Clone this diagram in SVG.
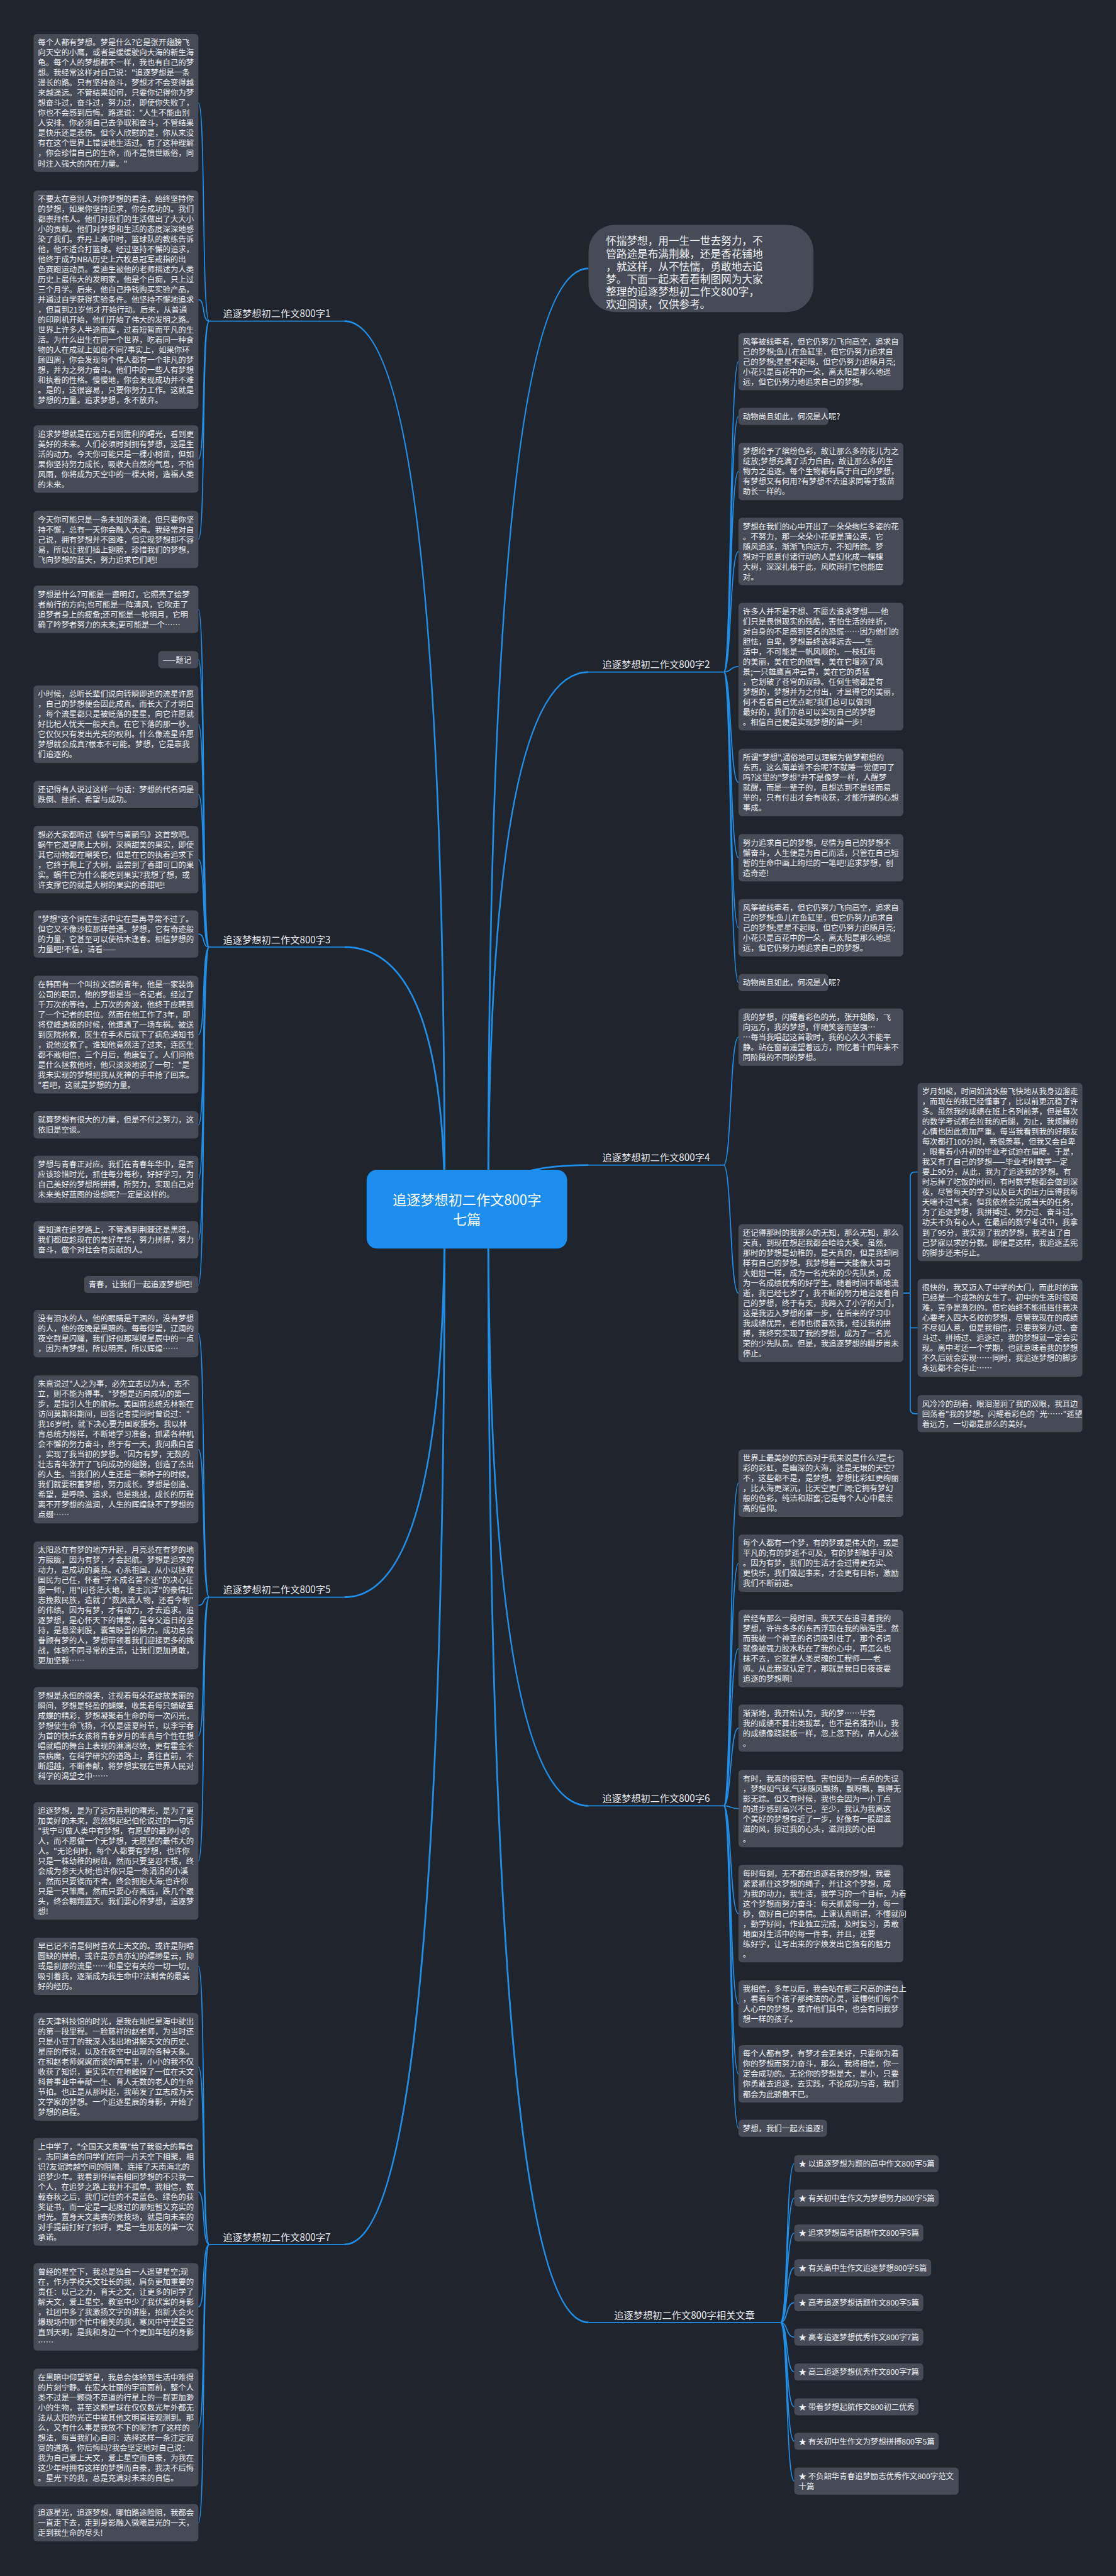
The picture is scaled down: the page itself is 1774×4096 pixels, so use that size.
<svg xmlns="http://www.w3.org/2000/svg" width="1774" height="4096" viewBox="0 0 1774 4096">
<style>
.bx{fill:#464b57}
.t{font-family:"Noto Sans CJK SC","Noto Sans",sans-serif;font-size:17.9px;fill:#eef0f3}
.lb{font-family:"Noto Sans CJK SC","Noto Sans",sans-serif;font-size:22px;fill:#e8eaee;text-anchor:middle}
.ln{fill:none;stroke:#1f8fea;stroke-width:2.5}
.mn{fill:none;stroke:#1f8fea;stroke-width:4}
</style>
<rect width="1774" height="4096" fill="#20242d"/>
<g transform="scale(0.69297)">
<g id="connectors">
<path class="mn" d="M1020,2775 Q1020,737 790,737"/>
<path class="mn" d="M1020,2775 Q1020,2173 790,2173"/>
<path class="mn" d="M1020,2775 Q1020,3665 790,3665"/>
<path class="mn" d="M1020,2775 Q1020,5150 790,5150"/>
<path class="mn" d="M1120,2775 Q1120,616 1350,616"/>
<path class="mn" d="M1120,2775 Q1120,1542 1350,1542"/>
<path class="mn" d="M1120,2775 Q1120,2673.5 1350,2673.5"/>
<path class="mn" d="M1120,2775 Q1120,4143.5 1350,4143.5"/>
<path class="mn" d="M1120,2775 Q1120,5329 1350,5329"/>
<path class="ln" d="M480,737 C462,737 472,236.2 455,236.2 M480,737 C462,737 472,687.6 455,687.6 M480,737 C462,737 472,1053.3 455,1053.3 M480,737 C462,737 472,1237.8 455,1237.8"/>
<path class="ln" d="M480,2173 C462,2173 472,1398.2 455,1398.2 M480,2173 C462,2173 472,1513.6 455,1513.6 M480,2173 C462,2173 472,1661.9 455,1661.9 M480,2173 C462,2173 472,1823.1 455,1823.1 M480,2173 C462,2173 472,1972.3 455,1972.3 M480,2173 C462,2173 472,2143.2 455,2143.2 M480,2173 C462,2173 472,2374.1 455,2374.1 M480,2173 C462,2173 472,2581.1 455,2581.1 M480,2173 C462,2173 472,2706.2 455,2706.2 M480,2173 C462,2173 472,2844.7 455,2844.7 M480,2173 C462,2173 472,2947.6 455,2947.6"/>
<path class="ln" d="M480,3665 C462,3665 472,3060.2 455,3060.2 M480,3665 C462,3665 472,3325.7 455,3325.7 M480,3665 C462,3665 472,3683.6 455,3683.6 M480,3665 C462,3665 472,3983 455,3983 M480,3665 C462,3665 472,4270 455,4270"/>
<path class="ln" d="M480,5150 C462,5150 472,4511.8 455,4511.8 M480,5150 C462,5150 472,4742.5 455,4742.5 M480,5150 C462,5150 472,5029.5 455,5029.5 M480,5150 C462,5150 472,5293.4 455,5293.4 M480,5150 C462,5150 472,5570 455,5570 M480,5150 C462,5150 472,5788.7 455,5788.7"/>
<path class="ln" d="M1660,1542.2 C1678,1542.2 1674,829.8 1694,829.8 M1660,1542.2 C1678,1542.2 1674,955.6 1694,955.6 M1660,1542.2 C1678,1542.2 1674,1081.8 1694,1081.8 M1660,1542.2 C1678,1542.2 1674,1265.3 1694,1265.3 M1660,1542.2 C1678,1542.2 1674,1529.6 1694,1529.6 M1660,1542.2 C1678,1542.2 1674,1795.3 1694,1795.3 M1660,1542.2 C1678,1542.2 1674,1968.2 1694,1968.2 M1660,1542.2 C1678,1542.2 1674,2128.8 1694,2128.8 M1660,1542.2 C1678,1542.2 1674,2254.6 1694,2254.6"/>
<path class="ln" d="M1660,2673.5 C1678,2673.5 1674,2379.8 1694,2379.8 M1660,2673.5 C1678,2673.5 1674,2967.2 1694,2967.2"/>
<path class="ln" d="M2072,2967.2 H2088 M2088,2967.2 V2701 Q2088,2689.4 2099,2689.4 H2105 M2088,2967.2 V3047 H2105 M2088,2967.2 V3232 Q2088,3243.7 2099,3243.7 H2105"/>
<path class="ln" d="M1660,4143.5 C1678,4143.5 1674,3403.3 1694,3403.3 M1660,4143.5 C1678,4143.5 1674,3586.8 1694,3586.8 M1660,4143.5 C1678,4143.5 1674,3782.9 1694,3782.9 M1660,4143.5 C1678,4143.5 1674,3965.2 1694,3965.2 M1660,4143.5 C1678,4143.5 1674,4149.9 1694,4149.9 M1660,4143.5 C1678,4143.5 1674,4391 1694,4391 M1660,4143.5 C1678,4143.5 1674,4598.2 1694,4598.2 M1660,4143.5 C1678,4143.5 1674,4758.8 1694,4758.8 M1660,4143.5 C1678,4143.5 1674,4883.6 1694,4883.6"/>
<path class="ln" d="M1790,5329 C1808,5329 1802,4964.6 1822,4964.6 M1790,5329 C1808,5329 1802,5043.6 1822,5043.6 M1790,5329 C1808,5329 1802,5123.6 1822,5123.6 M1790,5329 C1808,5329 1802,5203.6 1822,5203.6 M1790,5329 C1808,5329 1802,5283.6 1822,5283.6 M1790,5329 C1808,5329 1802,5362.6 1822,5362.6 M1790,5329 C1808,5329 1802,5442.6 1822,5442.6 M1790,5329 C1808,5329 1802,5522.6 1822,5522.6 M1790,5329 C1808,5329 1802,5601.6 1822,5601.6 M1790,5329 C1808,5329 1802,5693.1 1822,5693.1"/>
<path class="ln" d="M480,737 H790 M480,2173 H790 M480,3665 H790 M480,5150 H790 M1350,1542.2 H1660 M1350,2673.5 H1660 M1350,4143.5 H1660 M1350,5329 H1790"/>
</g>
<g id="center"><rect x="841" y="2684" width="460" height="181" rx="24" fill="#1b8ef0"/><text x="1071" y="2765" font-family="Noto Sans CJK SC,sans-serif" font-size="32" fill="#fff" text-anchor="middle">追逐梦想初二作文800字<tspan x="1071" dy="44">七篇</tspan></text></g>
<g id="intro"><rect x="1350" y="516" width="516" height="200" rx="60" class="bx"/><text class="t" style="font-size:24px" x="1390" y="562"><tspan x="1390">怀揣梦想，用一生一世去努力，不</tspan><tspan x="1390" dy="29">管路途是布满荆棘，还是香花铺地</tspan><tspan x="1390" dy="29">，就这样，从不怯懦，勇敢地去追</tspan><tspan x="1390" dy="29">梦。下面一起来看看制图网为大家</tspan><tspan x="1390" dy="29">整理的追逐梦想初二作文800字，</tspan><tspan x="1390" dy="29">欢迎阅读，仅供参考。</tspan></text></g>
<g id="b1"><text class="lb" x="635" y="728">追逐梦想初二作文800字1</text></g>
<g id="b3"><text class="lb" x="635" y="2164">追逐梦想初二作文800字3</text></g>
<g id="b5"><text class="lb" x="635" y="3656">追逐梦想初二作文800字5</text></g>
<g id="b7"><text class="lb" x="635" y="5141">追逐梦想初二作文800字7</text></g>
<g id="b2"><text class="lb" x="1505" y="1533">追逐梦想初二作文800字2</text></g>
<g id="b4"><text class="lb" x="1505" y="2664">追逐梦想初二作文800字4</text></g>
<g id="b6"><text class="lb" x="1505" y="4134">追逐梦想初二作文800字6</text></g>
<g id="b8"><text class="lb" x="1570" y="5320">追逐梦想初二作文800字相关文章</text></g>

<g id="nA"><rect class="bx" x="77" y="78" width="378" height="316.3" rx="8"/><text class="t" x="87" y="104.5"><tspan x="87">每个人都有梦想。梦是什么?它是张开翅膀飞</tspan><tspan x="87" dy="23.1">向天空的小鹰，或者是缓缓驶向大海的新生海</tspan><tspan x="87" dy="23.1">龟。每个人的梦想都不一样，我也有自己的梦</tspan><tspan x="87" dy="23.1">想。我经常这样对自己说："追逐梦想是一条</tspan><tspan x="87" dy="23.1">漫长的路。只有坚持奋斗，梦想才不会变得越</tspan><tspan x="87" dy="23.1">来越遥远。不管结果如何，只要你记得你为梦</tspan><tspan x="87" dy="23.1">想奋斗过，奋斗过，努力过，即使你失败了，</tspan><tspan x="87" dy="23.1">你也不会感到后悔。路遥说："人生不能由别</tspan><tspan x="87" dy="23.1">人安排。你必须自己去争取和奋斗，不管结果</tspan><tspan x="87" dy="23.1">是快乐还是悲伤。但令人欣慰的是，你从来没</tspan><tspan x="87" dy="23.1">有在这个世界上错误地生活过。有了这种理解</tspan><tspan x="87" dy="23.1">，你会珍惜自己的生命，而不是愤世嫉俗，同</tspan><tspan x="87" dy="23.1">时注入强大的内在力量。"</tspan></text></g>
<g id="nB"><rect class="bx" x="77" y="437" width="378" height="501.1" rx="8"/><text class="t" x="87" y="463.5"><tspan x="87">不要太在意别人对你梦想的看法，始终坚持你</tspan><tspan x="87" dy="23.1">的梦想，如果你坚持追求，你会成功的。我们</tspan><tspan x="87" dy="23.1">都崇拜伟人。他们对我们的生活做出了大大小</tspan><tspan x="87" dy="23.1">小的贡献。他们对梦想和生活的态度深深地感</tspan><tspan x="87" dy="23.1">染了我们。乔丹上高中时，篮球队的教练告诉</tspan><tspan x="87" dy="23.1">他，他不适合打篮球。经过坚持不懈的追求，</tspan><tspan x="87" dy="23.1">他终于成为NBA历史上六枚总冠军戒指的出</tspan><tspan x="87" dy="23.1">色赛跑运动员。爱迪生被他的老师描述为人类</tspan><tspan x="87" dy="23.1">历史上最伟大的发明家，他是个白痴，只上过</tspan><tspan x="87" dy="23.1">三个月学。后来，他自己挣钱购买实验产品，</tspan><tspan x="87" dy="23.1">并通过自学获得实验条件。他坚持不懈地追求</tspan><tspan x="87" dy="23.1">，但直到21岁他才开始行动。后来，从普通</tspan><tspan x="87" dy="23.1">的印刷机开始，他们开始了伟大的发明之路。</tspan><tspan x="87" dy="23.1">世界上许多人半途而废，过着短暂而平凡的生</tspan><tspan x="87" dy="23.1">活。为什么出生在同一个世界，吃着同一种食</tspan><tspan x="87" dy="23.1">物的人在成就上如此不同?事实上，如果你环</tspan><tspan x="87" dy="23.1">顾四周，你会发现每个伟人都有一个非凡的梦</tspan><tspan x="87" dy="23.1">想，并为之努力奋斗。他们中的一些人有梦想</tspan><tspan x="87" dy="23.1">和执着的性格。慢慢地，你会发现成功并不难</tspan><tspan x="87" dy="23.1">。是的，这很容易，只要你努力工作。这就是</tspan><tspan x="87" dy="23.1">梦想的力量。追求梦想，永不放弃。</tspan></text></g>
<g id="nC"><rect class="bx" x="77" y="976" width="378" height="154.6" rx="8"/><text class="t" x="87" y="1002.5"><tspan x="87">追求梦想就是在远方看到胜利的曙光，看到更</tspan><tspan x="87" dy="23.1">美好的未来。人们必须时刻拥有梦想，这是生</tspan><tspan x="87" dy="23.1">活的动力。今天你可能只是一棵小树苗，但如</tspan><tspan x="87" dy="23.1">果你坚持努力成长，吸收大自然的气息，不怕</tspan><tspan x="87" dy="23.1">风雨，你将成为天空中的一棵大树，造福人类</tspan><tspan x="87" dy="23.1">的未来。</tspan></text></g>
<g id="nD"><rect class="bx" x="77" y="1172" width="378" height="131.5" rx="8"/><text class="t" x="87" y="1198.5"><tspan x="87">今天你可能只是一条未知的溪流，但只要你坚</tspan><tspan x="87" dy="23.1">持不懈，总有一天你会融入大海。我经常对自</tspan><tspan x="87" dy="23.1">己说，拥有梦想并不困难，但实现梦想却不容</tspan><tspan x="87" dy="23.1">易，所以让我们插上翅膀，珍惜我们的梦想，</tspan><tspan x="87" dy="23.1">飞向梦想的蓝天，努力追求它们吧!</tspan></text></g>
<g id="nE"><rect class="bx" x="77" y="1344" width="378" height="108.4" rx="8"/><text class="t" x="87" y="1370.5"><tspan x="87">梦想是什么?可能是一盏明灯，它照亮了绘梦</tspan><tspan x="87" dy="23.1">者前行的方向;也可能是一阵清风，它吹走了</tspan><tspan x="87" dy="23.1">追梦者身上的疲惫;还可能是一轮明月，它明</tspan><tspan x="87" dy="23.1">确了吟梦者努力的未来;更可能是一个……</tspan></text></g>
<g id="nF"><rect class="bx" x="363" y="1494" width="92" height="39.1" rx="8"/><text class="t" x="373" y="1520.5">——题记</text></g>
<g id="nG"><rect class="bx" x="77" y="1573" width="378" height="177.7" rx="8"/><text class="t" x="87" y="1599.5"><tspan x="87">小时候，总听长辈们说向转瞬即逝的流星许愿</tspan><tspan x="87" dy="23.1">，自己的梦想便会因此成真。而长大了才明白</tspan><tspan x="87" dy="23.1">，每个流星都只是被贬落的星星，向它许愿就</tspan><tspan x="87" dy="23.1">好比杞人忧天一般天真。在它下落的那一秒，</tspan><tspan x="87" dy="23.1">它仅仅只有发出光亮的权利。什么像流星许愿</tspan><tspan x="87" dy="23.1">梦想就会成真?根本不可能。梦想，它是靠我</tspan><tspan x="87" dy="23.1">们追逐的。</tspan></text></g>
<g id="nH"><rect class="bx" x="77" y="1792" width="378" height="62.2" rx="8"/><text class="t" x="87" y="1818.5"><tspan x="87">还记得有人说过这样一句话：梦想的代名词是</tspan><tspan x="87" dy="23.1">跌倒、挫折、希望与成功。</tspan></text></g>
<g id="nI"><rect class="bx" x="77" y="1895" width="378" height="154.6" rx="8"/><text class="t" x="87" y="1921.5"><tspan x="87">想必大家都听过《蜗牛与黄鹂鸟》这首歌吧。</tspan><tspan x="87" dy="23.1">蜗牛它渴望爬上大树，采摘甜美的果实，即使</tspan><tspan x="87" dy="23.1">其它动物都在嘲笑它，但是在它的执着追求下</tspan><tspan x="87" dy="23.1">，它终于爬上了大树，品尝到了香甜可口的果</tspan><tspan x="87" dy="23.1">实。蜗牛它为什么能吃到果实?我想了想，或</tspan><tspan x="87" dy="23.1">许支撑它的就是大树的果实的香甜吧!</tspan></text></g>
<g id="nJ"><rect class="bx" x="77" y="2089" width="378" height="108.4" rx="8"/><text class="t" x="87" y="2115.5"><tspan x="87">"梦想"这个词在生活中实在是再寻常不过了。</tspan><tspan x="87" dy="23.1">但它又不像沙粒那样普通。梦想，它有奇迹般</tspan><tspan x="87" dy="23.1">的力量，它甚至可以使枯木逢春。相信梦想的</tspan><tspan x="87" dy="23.1">力量吧!不信，请看——</tspan></text></g>
<g id="nK"><rect class="bx" x="77" y="2239" width="378" height="270.1" rx="8"/><text class="t" x="87" y="2265.5"><tspan x="87">在韩国有一个叫拉文德的青年，他是一家装饰</tspan><tspan x="87" dy="23.1">公司的职员，他的梦想是当一名记者。经过了</tspan><tspan x="87" dy="23.1">千万次的等待，上万次的奔波，他终于应聘到</tspan><tspan x="87" dy="23.1">了一个记者的职位。然而在他工作了3年，即</tspan><tspan x="87" dy="23.1">将登峰造极的时候，他遭遇了一场车祸。被送</tspan><tspan x="87" dy="23.1">到医院抢救，医生在手术后就下了病危通知书</tspan><tspan x="87" dy="23.1">，说他没救了。谁知他竟然活了过来，连医生</tspan><tspan x="87" dy="23.1">都不敢相信，三个月后，他康复了。人们问他</tspan><tspan x="87" dy="23.1">是什么拯救他时，他只淡淡地说了一句："是</tspan><tspan x="87" dy="23.1">我未实现的梦想把我从死神的手中抢了回来。</tspan><tspan x="87" dy="23.1">"看吧，这就是梦想的力量。</tspan></text></g>
<g id="nL"><rect class="bx" x="77" y="2550" width="378" height="62.2" rx="8"/><text class="t" x="87" y="2576.5"><tspan x="87">就算梦想有很大的力量，但是不付之努力，这</tspan><tspan x="87" dy="23.1">依旧是空谈。</tspan></text></g>
<g id="nM"><rect class="bx" x="77" y="2652" width="378" height="108.4" rx="8"/><text class="t" x="87" y="2678.5"><tspan x="87">梦想与青春正对应。我们在青春年华中，是否</tspan><tspan x="87" dy="23.1">应该珍惜时光，抓住每分每秒，好好学习，为</tspan><tspan x="87" dy="23.1">自己美好的梦想所拼搏，所努力，实现自己对</tspan><tspan x="87" dy="23.1">未来美好蓝图的设想呢?一定是这样的。</tspan></text></g>
<g id="nN"><rect class="bx" x="77" y="2802" width="378" height="85.3" rx="8"/><text class="t" x="87" y="2828.5"><tspan x="87">要知道在追梦路上，不管遇到荆棘还是黑暗，</tspan><tspan x="87" dy="23.1">我们都应趁现在的美好年华，努力拼搏，努力</tspan><tspan x="87" dy="23.1">奋斗，做个对社会有贡献的人。</tspan></text></g>
<g id="nO"><rect class="bx" x="193" y="2928" width="262" height="39.1" rx="8"/><text class="t" x="203" y="2954.5">青春，让我们一起追逐梦想吧!</text></g>
<g id="nP"><rect class="bx" x="77" y="3006" width="378" height="108.4" rx="8"/><text class="t" x="87" y="3032.5"><tspan x="87">没有泪水的人，他的眼睛是干涸的，没有梦想</tspan><tspan x="87" dy="23.1">的人，他的夜晚是黑暗的。每每仰望，辽阔的</tspan><tspan x="87" dy="23.1">夜空群星闪耀，我们好似那璀璨星辰中的一点</tspan><tspan x="87" dy="23.1">，因为有梦想，所以明亮，所以辉煌……</tspan></text></g>
<g id="nQ"><rect class="bx" x="77" y="3156" width="378" height="339.4" rx="8"/><text class="t" x="87" y="3182.5"><tspan x="87">朱熹说过"人之为事，必先立志以为本，志不</tspan><tspan x="87" dy="23.1">立，则不能为得事。"梦想是迈向成功的第一</tspan><tspan x="87" dy="23.1">步，是指引人生的航标。美国前总统克林顿在</tspan><tspan x="87" dy="23.1">访问莫斯科期间，回答记者提问时曾说过："</tspan><tspan x="87" dy="23.1">我16岁时，就下决心要为国家服务。我以林</tspan><tspan x="87" dy="23.1">肯总统为榜样，不断地学习准备，抓紧各种机</tspan><tspan x="87" dy="23.1">会不懈的努力奋斗，终于有一天，我问鼎白宫</tspan><tspan x="87" dy="23.1">，实现了我当初的梦想。"因为有梦，无数的</tspan><tspan x="87" dy="23.1">壮志青年张开了飞向成功的翅膀，创造了杰出</tspan><tspan x="87" dy="23.1">的人生。当我们的人生还是一颗种子的时候，</tspan><tspan x="87" dy="23.1">我们就要积蓄梦想，努力成长。梦想是创造、</tspan><tspan x="87" dy="23.1">希望，是呼唤、追求，也是挑战，成长的历程</tspan><tspan x="87" dy="23.1">离不开梦想的滋润，人生的辉煌缺不了梦想的</tspan><tspan x="87" dy="23.1">点缀……</tspan></text></g>
<g id="nR"><rect class="bx" x="77" y="3537" width="378" height="293.2" rx="8"/><text class="t" x="87" y="3563.5"><tspan x="87">太阳总在有梦的地方升起，月亮总在有梦的地</tspan><tspan x="87" dy="23.1">方朦胧，因为有梦，才会起航。梦想是追求的</tspan><tspan x="87" dy="23.1">动力，是成功的奠基。心系祖国，从小以拯救</tspan><tspan x="87" dy="23.1">国民为己任，怀着"学不成名誓不还"的决心征</tspan><tspan x="87" dy="23.1">服一师，用"问苍茫大地，谁主沉浮"的豪情壮</tspan><tspan x="87" dy="23.1">志挽救民族，造就了"数风流人物，还看今朝"</tspan><tspan x="87" dy="23.1">的伟绩。因为有梦，才有动力，才去追求。追</tspan><tspan x="87" dy="23.1">逐梦想，是心怀天下的博爱，是夸父追日的坚</tspan><tspan x="87" dy="23.1">持，是悬梁刺股，囊萤映雪的毅力。成功总会</tspan><tspan x="87" dy="23.1">眷顾有梦的人，梦想带领着我们迎接更多的挑</tspan><tspan x="87" dy="23.1">战，体验不同寻常的生活，让我们更加勇敢，</tspan><tspan x="87" dy="23.1">更加坚毅……</tspan></text></g>
<g id="nS"><rect class="bx" x="77" y="3871" width="378" height="223.9" rx="8"/><text class="t" x="87" y="3897.5"><tspan x="87">梦想是永恒的微笑，注视着每朵花绽放美丽的</tspan><tspan x="87" dy="23.1">瞬间，梦想是轻盈的蝴蝶，收集着每只蛹破茧</tspan><tspan x="87" dy="23.1">成蝶的精彩，梦想凝聚着生命的每一次闪光，</tspan><tspan x="87" dy="23.1">梦想使生命飞扬，不仅是盛夏时节，以李宇春</tspan><tspan x="87" dy="23.1">为首的快乐女孩将青春岁月的率真与个性在想</tspan><tspan x="87" dy="23.1">唱就唱的舞台上表现的淋漓尽致，更有霍金不</tspan><tspan x="87" dy="23.1">畏病魔，在科学研究的道路上，勇往直前，不</tspan><tspan x="87" dy="23.1">断超越，不断奉献，将梦想实现在世界人民对</tspan><tspan x="87" dy="23.1">科学的渴望之中……</tspan></text></g>
<g id="nT"><rect class="bx" x="77" y="4135" width="378" height="270.1" rx="8"/><text class="t" x="87" y="4161.5"><tspan x="87">追逐梦想，是为了远方胜利的曙光，是为了更</tspan><tspan x="87" dy="23.1">加美好的未来，忽然想起纪伯伦说过的一句话</tspan><tspan x="87" dy="23.1">"我宁可做人类中有梦想，有愿望的最渺小的</tspan><tspan x="87" dy="23.1">人，而不愿做一个无梦想，无愿望的最伟大的</tspan><tspan x="87" dy="23.1">人。"无论何时，每个人都要有梦想，也许你</tspan><tspan x="87" dy="23.1">只是一株幼稚的树苗，然而只要坚忍不拔，终</tspan><tspan x="87" dy="23.1">会成为参天大树;也许你只是一条涓涓的小溪</tspan><tspan x="87" dy="23.1">，然而只要锲而不舍，终会拥抱大海;也许你</tspan><tspan x="87" dy="23.1">只是一只雏鹰，然而只要心存高远，跌几个跟</tspan><tspan x="87" dy="23.1">头，终会翱翔蓝天。我们要心怀梦想，追逐梦</tspan><tspan x="87" dy="23.1">想!</tspan></text></g>
<g id="nU"><rect class="bx" x="77" y="4446" width="378" height="131.5" rx="8"/><text class="t" x="87" y="4472.5"><tspan x="87">早已记不清是何时喜欢上天文的。或许是阴晴</tspan><tspan x="87" dy="23.1">圆缺的婵娟，或许是亦真亦幻的缥缈星云，抑</tspan><tspan x="87" dy="23.1">或是刹那的流星……和星空有关的一切一切，</tspan><tspan x="87" dy="23.1">吸引着我，逐渐成为我生命中?法割舍的最美</tspan><tspan x="87" dy="23.1">好的经历。</tspan></text></g>
<g id="nV"><rect class="bx" x="77" y="4619" width="378" height="247" rx="8"/><text class="t" x="87" y="4645.5"><tspan x="87">在天津科技馆的时光，是我在灿烂星海中驶出</tspan><tspan x="87" dy="23.1">的第一段里程。一脸慈祥的赵老师，为当时还</tspan><tspan x="87" dy="23.1">只是小豆丁的我深入浅出地讲解天文的历史、</tspan><tspan x="87" dy="23.1">星座的传说，以及在夜空中出现的各种天象。</tspan><tspan x="87" dy="23.1">在和赵老师娓娓而谈的两年里，小小的我不仅</tspan><tspan x="87" dy="23.1">收获了知识，更实实在在地触摸了一位在天文</tspan><tspan x="87" dy="23.1">科普事业中奉献一生、育人无数的老人的生命</tspan><tspan x="87" dy="23.1">节拍。也正是从那时起，我萌发了立志成为天</tspan><tspan x="87" dy="23.1">文学家的梦想。一个追逐星辰的身影，开始了</tspan><tspan x="87" dy="23.1">梦想的启程。</tspan></text></g>
<g id="nW"><rect class="bx" x="77" y="4906" width="378" height="247" rx="8"/><text class="t" x="87" y="4932.5"><tspan x="87">上中学了，"全国天文奥赛"给了我很大的舞台</tspan><tspan x="87" dy="23.1">。志同道合的同学们在同一片天空下相聚，相</tspan><tspan x="87" dy="23.1">识?友谊跨越空间的阻隔，连接了天南海北的</tspan><tspan x="87" dy="23.1">追梦少年。我看到怀揣着相同梦想的不只我一</tspan><tspan x="87" dy="23.1">个人，在追梦之路上我并不孤单。我相信，数</tspan><tspan x="87" dy="23.1">载春秋之后，我们记住的不是蓝色、绿色的获</tspan><tspan x="87" dy="23.1">奖证书，而一定是一起度过的那短暂又充实的</tspan><tspan x="87" dy="23.1">时光。置身天文奥赛的竞技场，就是向未来的</tspan><tspan x="87" dy="23.1">对手提前打好了招呼，更是一生朋友的第一次</tspan><tspan x="87" dy="23.1">承诺。</tspan></text></g>
<g id="nX"><rect class="bx" x="77" y="5193" width="378" height="200.8" rx="8"/><text class="t" x="87" y="5219.5"><tspan x="87">曾经的星空下，我总是独自一人遥望星空;现</tspan><tspan x="87" dy="23.1">在，作为学校天文社长的我，肩负更加重要的</tspan><tspan x="87" dy="23.1">责任：以己之力，育天之文，让更多的同学了</tspan><tspan x="87" dy="23.1">解天文，爱上星空。教室中少了我伏案的身影</tspan><tspan x="87" dy="23.1">，社团中多了我激扬文字的讲座，招新大会火</tspan><tspan x="87" dy="23.1">爆现场中那个忙中偷笑的我，寒风中守望星空</tspan><tspan x="87" dy="23.1">直到天明，是我和身边一个个更加年轻的身影</tspan><tspan x="87" dy="23.1">……</tspan></text></g>
<g id="nY"><rect class="bx" x="77" y="5435" width="378" height="270.1" rx="8"/><text class="t" x="87" y="5461.5"><tspan x="87">在黑暗中仰望繁星，我总会体验到生活中难得</tspan><tspan x="87" dy="23.1">的片刻宁静。在宏大壮丽的宇宙面前，整个人</tspan><tspan x="87" dy="23.1">类不过是一颗微不足道的行星上的一群更加渺</tspan><tspan x="87" dy="23.1">小的生物，甚至这颗星球在仅仅数光年外都无</tspan><tspan x="87" dy="23.1">法从太阳的光芒中被其他文明直接观测到。那</tspan><tspan x="87" dy="23.1">么，又有什么事是我放不下的呢?有了这样的</tspan><tspan x="87" dy="23.1">想法，每当我扪心自问：选择这样一条注定寂</tspan><tspan x="87" dy="23.1">寞的道路，你后悔吗?我会坚定地对自己说：</tspan><tspan x="87" dy="23.1">我为自己爱上天文，爱上星空而自豪，为我在</tspan><tspan x="87" dy="23.1">这少年时拥有这样的梦想而自豪，我决不后悔</tspan><tspan x="87" dy="23.1">。星光下的我，总是充满对未来的自信。</tspan></text></g>
<g id="nZ"><rect class="bx" x="77" y="5746" width="378" height="85.3" rx="8"/><text class="t" x="87" y="5772.5"><tspan x="87">追逐星光，追逐梦想，哪怕路途险阻，我都会</tspan><tspan x="87" dy="23.1">一直走下去，走到身影融入微曦晨光的一天，</tspan><tspan x="87" dy="23.1">走到我生命的尽头!</tspan></text></g>

<g id="r1"><rect class="bx" x="1694" y="764" width="378" height="131.5" rx="8"/><text class="t" x="1704" y="790.5"><tspan x="1704">风筝被线牵着，但它仍努力飞向高空，追求自</tspan><tspan x="1704" dy="23.1">己的梦想;鱼儿在鱼缸里，但它仍努力追求自</tspan><tspan x="1704" dy="23.1">己的梦想;星星不起眼，但它仍努力追随月亮;</tspan><tspan x="1704" dy="23.1">小花只是百花中的一朵，离太阳是那么地遥</tspan><tspan x="1704" dy="23.1">远，但它仍努力地追求自己的梦想。</tspan></text></g>
<g id="r2"><rect class="bx" x="1694" y="936" width="206" height="39.1" rx="8"/><text class="t" x="1704" y="962.5">动物尚且如此，何况是人呢?</text></g>
<g id="r3"><rect class="bx" x="1694" y="1016" width="378" height="131.5" rx="8"/><text class="t" x="1704" y="1042.5"><tspan x="1704">梦想给予了缤纷色彩，故让那么多的花儿为之</tspan><tspan x="1704" dy="23.1">绽放;梦想充满了活力自由，故让那么多的生</tspan><tspan x="1704" dy="23.1">物为之追逐。每个生物都有属于自己的梦想，</tspan><tspan x="1704" dy="23.1">有梦想又有何用?有梦想不去追求同等于拔苗</tspan><tspan x="1704" dy="23.1">助长一样的。</tspan></text></g>
<g id="r4"><rect class="bx" x="1694" y="1188" width="378" height="154.6" rx="8"/><text class="t" x="1704" y="1214.5"><tspan x="1704">梦想在我们的心中开出了一朵朵绚烂多姿的花</tspan><tspan x="1704" dy="23.1">。不努力，那一朵朵小花便是蒲公英，它</tspan><tspan x="1704" dy="23.1">随风追逐，渐渐飞向远方，不知所踪。梦</tspan><tspan x="1704" dy="23.1">想对于愿意付诸行动的人是幻化成一棵棵</tspan><tspan x="1704" dy="23.1">大树，深深扎根于此，风吹雨打它也能应</tspan><tspan x="1704" dy="23.1">对。</tspan></text></g>
<g id="r5"><rect class="bx" x="1694" y="1383" width="378" height="293.2" rx="8"/><text class="t" x="1704" y="1409.5"><tspan x="1704">许多人并不是不想、不愿去追求梦想——他</tspan><tspan x="1704" dy="23.1">们只是畏惧现实的残酷，害怕生活的挫折，</tspan><tspan x="1704" dy="23.1">对自身的不足感到莫名的恐慌……因为他们的</tspan><tspan x="1704" dy="23.1">胆怯，自卑，梦想最终选择远去——生</tspan><tspan x="1704" dy="23.1">活中，不可能是一帆风顺的。一枝红梅</tspan><tspan x="1704" dy="23.1">的美丽，美在它的傲雪，美在它增添了风</tspan><tspan x="1704" dy="23.1">景;一只雄鹰直冲云霄，美在它的勇猛</tspan><tspan x="1704" dy="23.1">，它划破了苍穹的寂静。任何生物都是有</tspan><tspan x="1704" dy="23.1">梦想的，梦想并为之付出，才显得它的美丽，</tspan><tspan x="1704" dy="23.1">何不看看自己优点呢?我们总可以做到</tspan><tspan x="1704" dy="23.1">最好的，我们亦总可以实现自己的梦想</tspan><tspan x="1704" dy="23.1">。相信自己便是实现梦想的第一步!</tspan></text></g>
<g id="r6"><rect class="bx" x="1694" y="1718" width="378" height="154.6" rx="8"/><text class="t" x="1704" y="1744.5"><tspan x="1704">所谓"梦想",通俗地可以理解为做梦都想的</tspan><tspan x="1704" dy="23.1">东西，这么简单谁不会呢?不就睡一觉便可了</tspan><tspan x="1704" dy="23.1">吗?这里的"梦想"并不是像梦一样，人醒梦</tspan><tspan x="1704" dy="23.1">就醒，而是一辈子的，且想达到不是轻而易</tspan><tspan x="1704" dy="23.1">举的，只有付出才会有收获，才能所谓的心想</tspan><tspan x="1704" dy="23.1">事成。</tspan></text></g>
<g id="r7"><rect class="bx" x="1694" y="1914" width="378" height="108.4" rx="8"/><text class="t" x="1704" y="1940.5"><tspan x="1704">努力追求自己的梦想，尽情为自己的梦想不</tspan><tspan x="1704" dy="23.1">懈奋斗，人生便是为自己而活，只管在自己短</tspan><tspan x="1704" dy="23.1">暂的生命中画上绚烂的一笔吧!追求梦想，创</tspan><tspan x="1704" dy="23.1">造奇迹!</tspan></text></g>
<g id="r8"><rect class="bx" x="1694" y="2063" width="378" height="131.5" rx="8"/><text class="t" x="1704" y="2089.5"><tspan x="1704">风筝被线牵着，但它仍努力飞向高空，追求自</tspan><tspan x="1704" dy="23.1">己的梦想;鱼儿在鱼缸里，但它仍努力追求自</tspan><tspan x="1704" dy="23.1">己的梦想;星星不起眼，但它仍努力追随月亮;</tspan><tspan x="1704" dy="23.1">小花只是百花中的一朵，离太阳是那么地遥</tspan><tspan x="1704" dy="23.1">远，但它仍努力地追求自己的梦想。</tspan></text></g>
<g id="r9"><rect class="bx" x="1694" y="2235" width="206" height="39.1" rx="8"/><text class="t" x="1704" y="2261.5">动物尚且如此，何况是人呢?</text></g>
<g id="r10"><rect class="bx" x="1694" y="2314" width="378" height="131.5" rx="8"/><text class="t" x="1704" y="2340.5"><tspan x="1704">我的梦想，闪耀着彩色的光，张开翅膀，飞</tspan><tspan x="1704" dy="23.1">向远方，我的梦想，伴随笑容而坚强…</tspan><tspan x="1704" dy="23.1">…每当我唱起这首歌时，我的心久久不能平</tspan><tspan x="1704" dy="23.1">静。站在窗前遥望着远方，回忆着十四年来不</tspan><tspan x="1704" dy="23.1">同阶段的不同的梦想。</tspan></text></g>
<g id="r11"><rect class="bx" x="1694" y="2809" width="378" height="316.3" rx="8"/><text class="t" x="1704" y="2835.5"><tspan x="1704">还记得那时的我那么的无知，那么无知，那么</tspan><tspan x="1704" dy="23.1">天真，到现在想起我都会哈哈大笑。虽然，</tspan><tspan x="1704" dy="23.1">那时的梦想是幼稚的，是天真的，但是我却同</tspan><tspan x="1704" dy="23.1">样有自己的梦想。我梦想着一天能像大哥哥</tspan><tspan x="1704" dy="23.1">大姐姐一样，成为一名光荣的少先队员，成</tspan><tspan x="1704" dy="23.1">为一名成绩优秀的好学生。随着时间不断地流</tspan><tspan x="1704" dy="23.1">逝，我已经七岁了，我不断的努力地追逐着自</tspan><tspan x="1704" dy="23.1">己的梦想，终于有天，我跨入了小学的大门，</tspan><tspan x="1704" dy="23.1">这是我迈入梦想的第一步，在后来的学习中</tspan><tspan x="1704" dy="23.1">我成绩优异，老师也很喜欢我，经过我的拼</tspan><tspan x="1704" dy="23.1">搏，我终究实现了我的梦想，成为了一名光</tspan><tspan x="1704" dy="23.1">荣的少先队员。但是，我追逐梦想的脚步尚未</tspan><tspan x="1704" dy="23.1">停止。</tspan></text></g>
<g id="rr1"><rect class="bx" x="2105" y="2485" width="378" height="408.7" rx="8"/><text class="t" x="2115" y="2511.5"><tspan x="2115">岁月如梭，时间如流水般飞快地从我身边溜走</tspan><tspan x="2115" dy="23.1">，而现在的我已经懂事了，比以前更沉稳了许</tspan><tspan x="2115" dy="23.1">多。虽然我的成绩在班上名列前茅，但是每次</tspan><tspan x="2115" dy="23.1">的数学考试都会拉我的后腿，为止，我烦躁的</tspan><tspan x="2115" dy="23.1">心情也因此愈加严重。每当我看到我的好朋友</tspan><tspan x="2115" dy="23.1">每次都打100分时，我很羡慕，但我又会自卑</tspan><tspan x="2115" dy="23.1">，眼看着小升初的毕业考试迫在眉睫。于是，</tspan><tspan x="2115" dy="23.1">我又有了自己的梦想——毕业考时数学一定</tspan><tspan x="2115" dy="23.1">要上90分，从此，我为了追逐我的梦想。有</tspan><tspan x="2115" dy="23.1">时忘掉了吃饭的时间，有时数学题都会做到深</tspan><tspan x="2115" dy="23.1">夜，尽管每天的学习以及巨大的压力压得我每</tspan><tspan x="2115" dy="23.1">天喘不过气来，但我依然会完成当天的任务，</tspan><tspan x="2115" dy="23.1">为了追逐梦想，我拼搏过、努力过、奋斗过。</tspan><tspan x="2115" dy="23.1">功夫不负有心人，在最后的数学考试中，我拿</tspan><tspan x="2115" dy="23.1">到了95分，我实现了我的梦想，我考出了自</tspan><tspan x="2115" dy="23.1">己梦寐以求的分数。即便是这样，我追逐孟宪</tspan><tspan x="2115" dy="23.1">的脚步还未停止。</tspan></text></g>
<g id="rr2"><rect class="bx" x="2105" y="2935" width="378" height="223.9" rx="8"/><text class="t" x="2115" y="2961.5"><tspan x="2115">很快的，我又迈入了中学的大门，而此时的我</tspan><tspan x="2115" dy="23.1">已经是一个成熟的女生了。初中的生活时很艰</tspan><tspan x="2115" dy="23.1">难，竞争是激烈的。但它始终不能抵挡住我决</tspan><tspan x="2115" dy="23.1">心要考入四大名校的梦想，尽管我现在的成绩</tspan><tspan x="2115" dy="23.1">不尽如人意，但是我相信，只要我努力过、奋</tspan><tspan x="2115" dy="23.1">斗过、拼搏过、追逐过，我的梦想就一定会实</tspan><tspan x="2115" dy="23.1">现。离中考还一个学期，也就意味着我的梦想</tspan><tspan x="2115" dy="23.1">不久后就会实现……同时，我追逐梦想的脚步</tspan><tspan x="2115" dy="23.1">永远都不会停止……</tspan></text></g>
<g id="rr3"><rect class="bx" x="2105" y="3201" width="378" height="85.3" rx="8"/><text class="t" x="2115" y="3227.5"><tspan x="2115">风冷冷的刮着，眼泪湿润了我的双眼，我耳边</tspan><tspan x="2115" dy="23.1">回荡着"我的梦想。闪耀着彩色的`光……"遥望</tspan><tspan x="2115" dy="23.1">着远方，一切都是那么的美好。</tspan></text></g>
<g id="r12"><rect class="bx" x="1694" y="3326" width="378" height="154.6" rx="8"/><text class="t" x="1704" y="3352.5"><tspan x="1704">世界上最美妙的东西对于我来说是什么?是七</tspan><tspan x="1704" dy="23.1">彩的彩虹，是幽深的大海，还是无垠的天空?</tspan><tspan x="1704" dy="23.1">不，这些都不是，是梦想。梦想比彩虹更绚丽</tspan><tspan x="1704" dy="23.1">，比大海更深沉，比天空更广阔;它拥有梦幻</tspan><tspan x="1704" dy="23.1">般的色彩，纯洁和甜蜜;它是每个人心中最崇</tspan><tspan x="1704" dy="23.1">高的信仰。</tspan></text></g>
<g id="r13"><rect class="bx" x="1694" y="3521" width="378" height="131.5" rx="8"/><text class="t" x="1704" y="3547.5"><tspan x="1704">每个人都有一个梦，有的梦或是伟大的，或是</tspan><tspan x="1704" dy="23.1">平凡的;有的梦遥不可及，有的梦却触手可及</tspan><tspan x="1704" dy="23.1">。因为有梦，我们的生活才会过得更充实、</tspan><tspan x="1704" dy="23.1">更快乐，我们做起事来，才会更有目标，激励</tspan><tspan x="1704" dy="23.1">我们不断前进。</tspan></text></g>
<g id="r14"><rect class="bx" x="1694" y="3694" width="378" height="177.7" rx="8"/><text class="t" x="1704" y="3720.5"><tspan x="1704">曾经有那么一段时间，我天天在追寻着我的</tspan><tspan x="1704" dy="23.1">梦想，许许多多的东西浮现在我的脑海里。然</tspan><tspan x="1704" dy="23.1">而我被一个神圣的名词吸引住了，那个名词</tspan><tspan x="1704" dy="23.1">就像被强力胶水粘在了我的心中，再怎么也</tspan><tspan x="1704" dy="23.1">抹不去，它就是人类灵魂的工程师——老</tspan><tspan x="1704" dy="23.1">师。从此我就认定了，那就是我日日夜夜要</tspan><tspan x="1704" dy="23.1">追逐的梦想啊!</tspan></text></g>
<g id="r15"><rect class="bx" x="1694" y="3911" width="378" height="108.4" rx="8"/><text class="t" x="1704" y="3937.5"><tspan x="1704">渐渐地，我开始认为，我的梦……毕竟</tspan><tspan x="1704" dy="23.1">我的成绩不算出类拔萃，也不是名落孙山，我</tspan><tspan x="1704" dy="23.1">的成绩像跷跷板一样，忽上忽下的，吊人心弦</tspan><tspan x="1704" dy="23.1">。</tspan></text></g>
<g id="r16"><rect class="bx" x="1694" y="4061" width="378" height="177.7" rx="8"/><text class="t" x="1704" y="4087.5"><tspan x="1704">有时，我真的很害怕。害怕因为一点点的失误</tspan><tspan x="1704" dy="23.1">，梦想如气球.气球随风飘扬，飘呀飘，飘得无</tspan><tspan x="1704" dy="23.1">影无踪。但又有时候，我也会因为一小丁点</tspan><tspan x="1704" dy="23.1">的进步感到高兴不已，至少，我认为我离这</tspan><tspan x="1704" dy="23.1">个美好的梦想有近了一步，好像有一股甜滋</tspan><tspan x="1704" dy="23.1">滋的风，掠过我的心头，滋润我的心田</tspan><tspan x="1704" dy="23.1">。</tspan></text></g>
<g id="r17"><rect class="bx" x="1694" y="4279" width="378" height="223.9" rx="8"/><text class="t" x="1704" y="4305.5"><tspan x="1704">每时每刻，无不都在追逐着我的梦想，我要</tspan><tspan x="1704" dy="23.1">紧紧抓住这梦想的绳子，并让这个梦想，成</tspan><tspan x="1704" dy="23.1">为我的动力，我生活，我学习的一个目标，为着</tspan><tspan x="1704" dy="23.1">这个梦想而努力奋斗：每天抓紧每一分，每一</tspan><tspan x="1704" dy="23.1">秒，做好自己的事情。上课认真听讲，不懂就问</tspan><tspan x="1704" dy="23.1">，勤学好问，作业独立完成，及时复习，勇敢</tspan><tspan x="1704" dy="23.1">地面对生活中的每一件事，并且，还要</tspan><tspan x="1704" dy="23.1">练好字，让写出来的字焕发出它独有的魅力</tspan><tspan x="1704" dy="23.1">。</tspan></text></g>
<g id="r18"><rect class="bx" x="1694" y="4544" width="378" height="108.4" rx="8"/><text class="t" x="1704" y="4570.5"><tspan x="1704">我相信，多年以后，我会站在那三尺高的讲台上</tspan><tspan x="1704" dy="23.1">，看着每个孩子那纯洁的心灵，读懂他们每个</tspan><tspan x="1704" dy="23.1">人心中的梦想。或许他们其中，也会有同我梦</tspan><tspan x="1704" dy="23.1">想一样的孩子。</tspan></text></g>
<g id="r19"><rect class="bx" x="1694" y="4693" width="378" height="131.5" rx="8"/><text class="t" x="1704" y="4719.5"><tspan x="1704">每个人都有梦，有梦才会更美好，只要你为着</tspan><tspan x="1704" dy="23.1">你的梦想而努力奋斗，那么，我将相信，你一</tspan><tspan x="1704" dy="23.1">定会成功的。无论你的梦想是大，是小，只要</tspan><tspan x="1704" dy="23.1">你勇敢去追逐，去实践，不论成功与否，我们</tspan><tspan x="1704" dy="23.1">都会为此骄傲不已。</tspan></text></g>
<g id="r20"><rect class="bx" x="1694" y="4864" width="203" height="39.1" rx="8"/><text class="t" x="1704" y="4890.5">梦想，我们一起去追逐!</text></g>

<g id="a1"><rect class="bx" x="1822" y="4945" width="331" height="39.1" rx="8"/><text class="t" x="1832" y="4971.5">★ 以追逐梦想为题的高中作文800字5篇</text></g>
<g id="a2"><rect class="bx" x="1822" y="5024" width="331" height="39.1" rx="8"/><text class="t" x="1832" y="5050.5">★ 有关初中生作文为梦想努力800字5篇</text></g>
<g id="a3"><rect class="bx" x="1822" y="5104" width="296" height="39.1" rx="8"/><text class="t" x="1832" y="5130.5">★ 追求梦想高考话题作文800字5篇</text></g>
<g id="a4"><rect class="bx" x="1822" y="5184" width="314" height="39.1" rx="8"/><text class="t" x="1832" y="5210.5">★ 有关高中生作文追逐梦想800字5篇</text></g>
<g id="a5"><rect class="bx" x="1822" y="5264" width="296" height="39.1" rx="8"/><text class="t" x="1832" y="5290.5">★ 高考追逐梦想话题作文800字5篇</text></g>
<g id="a6"><rect class="bx" x="1822" y="5343" width="296" height="39.1" rx="8"/><text class="t" x="1832" y="5369.5">★ 高考追逐梦想优秀作文800字7篇</text></g>
<g id="a7"><rect class="bx" x="1822" y="5423" width="296" height="39.1" rx="8"/><text class="t" x="1832" y="5449.5">★ 高三追逐梦想优秀作文800字7篇</text></g>
<g id="a8"><rect class="bx" x="1822" y="5503" width="285" height="39.1" rx="8"/><text class="t" x="1832" y="5529.5">★ 带着梦想起航作文800初二优秀</text></g>
<g id="a9"><rect class="bx" x="1822" y="5582" width="331" height="39.1" rx="8"/><text class="t" x="1832" y="5608.5">★ 有关初中生作文为梦想拼搏800字5篇</text></g>
<g id="a10"><rect class="bx" x="1822" y="5662" width="377" height="62.2" rx="8"/><text class="t" x="1832" y="5688.5"><tspan x="1832">★ 不负韶华青春追梦励志优秀作文800字范文</tspan><tspan x="1832" dy="23.1">十篇</tspan></text></g>
</g>
</svg>
